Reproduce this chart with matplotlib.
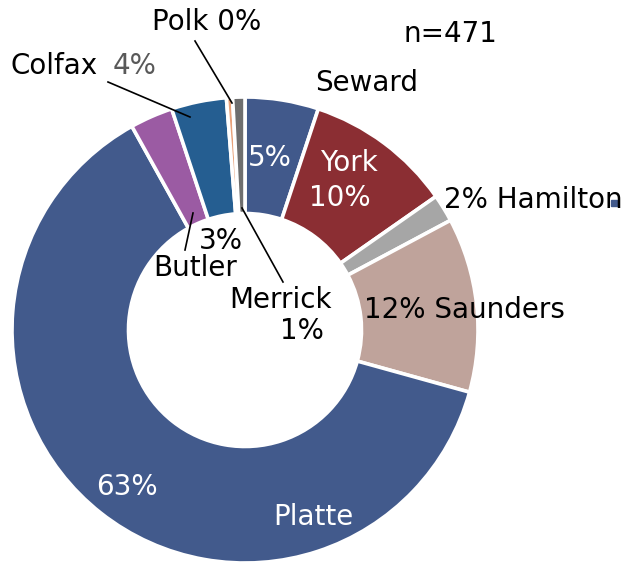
import matplotlib
matplotlib.use("Agg")
import matplotlib.pyplot as plt

# ---- data ----
counties = ["Seward", "York", "Hamilton", "Saunders", "Platte", "Butler", "Colfax", "Polk", "Merrick"]
counts = [24, 48, 9, 57, 295, 14, 18, 2, 4]
pct_labels = ["5%", "10%", "2%", "12%", "63%", "3%", "4%", "0%", "1%"]
colors = ["#41598b", "#8b2e33", "#a6a6a6", "#bfa39b", "#425a8c", "#9b5ba3", "#255e91", "#e8a27a", "#6e6e6e"]
n_label = "n=471"

W, H = 630, 565
fig = plt.figure(figsize=(W / 100, H / 100), dpi=100)
ax = fig.add_axes([0, 0, 1, 1])

def P(x, y):
    return (x, H - y)

R = 233
ax.pie(counts, colors=colors, startangle=90, counterclock=False,
       radius=R, center=P(245, 330),
       wedgeprops=dict(width=R * 0.5, edgecolor="white", linewidth=2.6))
ax.set_xlim(0, W)
ax.set_ylim(0, H)
ax.set_aspect("equal")
ax.axis("off")

FS = 20
fam = "DejaVu Sans"

def txt(x, y, s, color="black", ha="center", size=FS):
    ax.text(*P(x, y), s, color=color, ha=ha, va="center", fontsize=size, family=fam)

def line(p0, p1):
    ax.plot([P(*p0)[0], P(*p1)[0]], [P(*p0)[1], P(*p1)[1]], color="black", lw=1.2)

# labels
txt(207, 22, f"{counties[7]} {pct_labels[7]}")
line((195, 41), (232, 103))
txt(10, 66, counties[6], ha="left")
txt(113, 66, pct_labels[6], color="#595959", ha="left")
line((108, 82), (190, 117))
txt(367, 83, counties[0])
txt(450, 34, n_label)
txt(270, 158, pct_labels[0], color="white")
txt(349, 163, counties[1], color="white")
txt(340, 198, pct_labels[1], color="white")
txt(444, 200, f"{pct_labels[2]} {counties[2]}", ha="left")
ax.add_patch(plt.Rectangle(P(611, 206), 6, 6, color=colors[0]))
txt(364, 310, f"{pct_labels[3]} {counties[3]}", ha="left")
txt(221, 241, pct_labels[5])
txt(195, 268, counties[5])
line((185, 250), (193, 213))
txt(280, 300, counties[8])
txt(302, 331, pct_labels[8])
line((242, 208), (283, 282))
txt(127, 487, pct_labels[4], color="white")
txt(313, 517, counties[4], color="white")

fig.savefig("out.png", dpi=100)
